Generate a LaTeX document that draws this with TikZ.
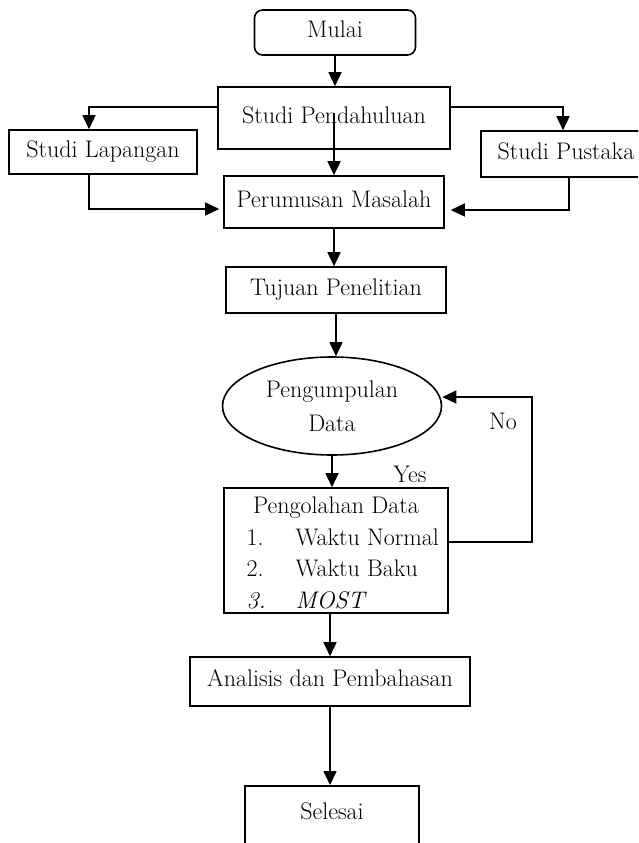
\documentclass[tikz,border=0pt]{standalone}
\usepackage{fontspec}
\usetikzlibrary{arrows.meta,shapes.geometric}

\begin{document}
\begin{tikzpicture}[x=1pt,y=-1pt,
    font=\fontsize{24}{28}\selectfont,
    box/.style={draw,line width=1.6pt,inner sep=0pt,text height=15pt,text depth=5pt},
    arr/.style={-{Triangle[length=14pt,width=13pt]},line width=1.6pt}]
      \useasboundingbox (0,0) rectangle (638,843);
      \clip (0,0) rectangle (638,843);
      % boxes
      \node [box,rounded corners=8pt,minimum width=161pt,minimum height=45pt] (mulai) at (335,32.5) {Mulai};
      \node [box,minimum width=232pt,minimum height=62pt] (pendahuluan) at (334,118) {Studi Pendahuluan};
      \node [box,minimum width=188pt,minimum height=44pt] (lapangan) at (103,152) {Studi Lapangan};
      \node [box,minimum width=170pt,minimum height=46pt] (pustaka) at (566,154) {Studi Pustaka};
      \node [box,minimum width=220pt,minimum height=52pt] (perumusan) at (334,202) {Perumusan Masalah};
      \node [box,minimum width=220pt,minimum height=46pt] (tujuan) at (336,290) {Tujuan Penelitian};
      \node [draw,ellipse,line width=1.6pt,inner sep=0pt,minimum width=219pt,minimum height=98pt,
             align=center,font=\fontsize{24}{34}\selectfont] (pengumpulan) at (332,406) {Pengumpulan\\Data};
      \node [box,minimum width=224pt,minimum height=125pt] (pengolahan) at (336,550.5) {};
      \node [anchor=base] (judul) at (336,513) {Pengolahan Data};
      \node [anchor=base west] (no1) at (243,545) {1.};
      \node [anchor=base west] (item1) at (292,545) {Waktu Normal};
      \node [anchor=base west] (no2) at (243,576) {2.};
      \node [anchor=base west] (item2) at (292,576) {Waktu Baku};
      \node [anchor=base west] (no3) at (243,608) {\textit{3.}};
      \node [anchor=base west] (item3) at (292,608) {\textit{MOST}};
      \node [box,minimum width=280pt,minimum height=49pt] (analisis) at (330,681.5) {Analisis dan Pembahasan};
      \node [box,anchor=north,minimum width=174pt,minimum height=80pt] (selesai) at (332,785) {};
      \node [anchor=base] (selesaitext) at (332,819) {Selesai};
      % labels
      \node [anchor=base] (yes) at (410,482) {Yes};
      \node [anchor=base] (no) at (503,429) {No};
      \coordinate (loopcorner) at (532,542);
      % arrows
      \draw [arr] (mulai.south) -- (mulai.south |- pendahuluan.north);
      \draw [arr] ([yshift=11pt]pendahuluan.west) -| ([xshift=-14pt]lapangan.north);
      \draw [arr] ([yshift=11pt]pendahuluan.east) -| ([xshift=-3pt]pustaka.north);
      \draw [arr] ([yshift=5pt]pendahuluan.center) -- (perumusan.north);
      \draw [arr] ([xshift=-14pt]lapangan.south) |- ([xshift=-4pt,yshift=-7pt]perumusan.west);
      \draw [arr] ([xshift=3pt]pustaka.south) |- ([xshift=6pt,yshift=-8pt]perumusan.east);
      \draw [arr] (perumusan.south) -- (perumusan.south |- tujuan.north);
      \draw [arr] (tujuan.south) -- (tujuan.south |- pengumpulan.north);
      \draw [arr] (pengumpulan.south) -- (pengumpulan.south |- pengolahan.north);
      \draw [arr] ([yshift=8.5pt]pengolahan.east) -- (loopcorner) |- ([yshift=9pt]pengumpulan.east);
      \draw [arr] (pengolahan.south -| analisis.north) -- (analisis.north);
      \draw [arr] (analisis.south) -- (analisis.south |- selesai.north);
    \end{tikzpicture}
\end{document}
